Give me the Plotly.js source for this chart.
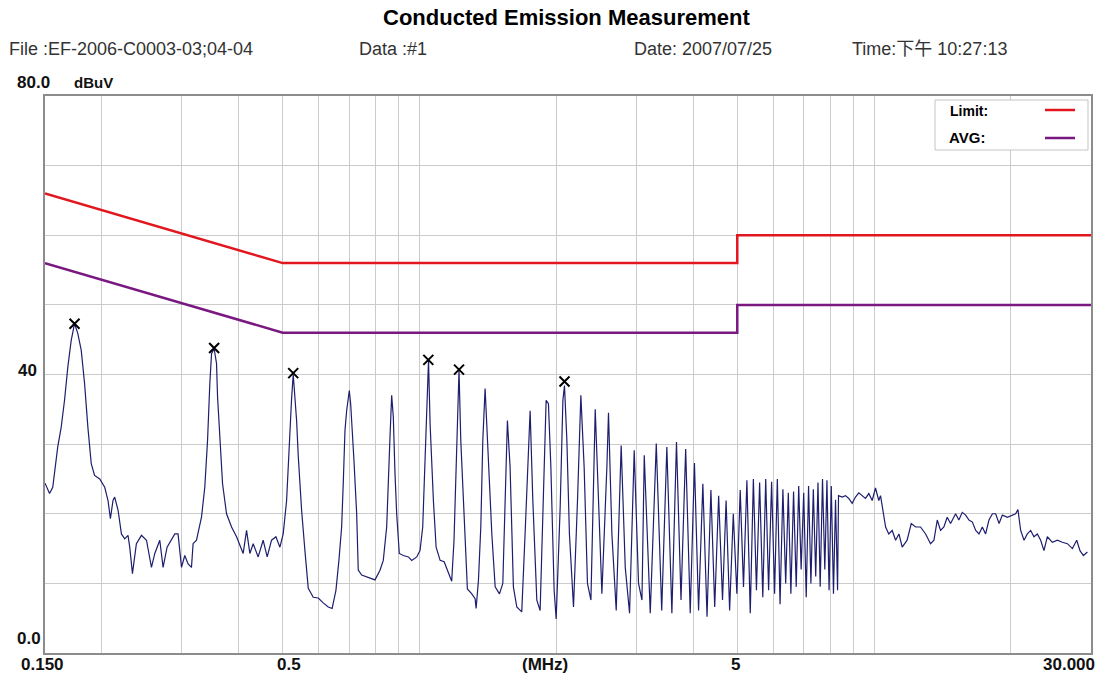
<!DOCTYPE html>
<html>
<head>
<meta charset="utf-8">
<script src="https://cdn.plot.ly/plotly-3.0.1.min.js"></script>
<style>html,body{margin:0;padding:0;background:#fff;}#chart{width:1104px;height:677px;}</style>
</head>
<body>
<div id="chart"></div>
<script>
// Scan trace: frequency (MHz) and level (dBuV)
var scanFreq = [
0.150,0.1535,0.1560,0.1588,0.1600,0.1628,0.1656,0.1684,0.1713,0.1742,0.1771,0.1802,0.1833,0.1864,0.1896,0.1928,0.1979,0.2030,0.2064,0.2089,
0.2117,0.2135,0.2172,0.2209,0.2246,0.2284,0.2304,0.2336,0.2383,0.2445,0.2508,0.2572,0.2616,0.2683,0.2728,0.2784,0.2846,0.2895,0.2943,0.2995,
0.3045,0.3097,0.3150,0.3176,0.3231,0.3314,0.3370,0.3417,0.3457,0.3487,0.3533,0.3576,0.3595,0.3637,0.3687,0.3762,0.3859,0.3958,0.4093,0.4164,
0.4234,0.4306,0.4416,0.4529,0.4622,0.4726,0.4831,0.4930,0.5013,0.5100,0.5142,0.5186,0.5231,0.5274,0.5319,0.5365,0.5409,0.5503,0.5596,0.5691,
0.5837,0.5987,0.6140,0.6298,0.6423,0.6548,0.6648,0.6740,0.6796,0.6855,0.6913,0.7006,0.7055,0.7127,0.7173,0.7273,0.7332,0.7459,0.7651,0.7847,
0.7980,0.8185,0.8323,0.8467,0.8537,0.8610,0.8684,0.8756,0.8831,0.8907,0.9026,0.9213,0.9450,0.9612,0.9859,1.0025,1.0163,1.0246,1.0335,1.0403,
1.0466,1.0550,1.0622,1.0728,1.0876,1.1100,1.1328,1.1577,1.1770,1.1908,1.2031,1.2134,1.2214,1.2324,1.2449,1.2596,1.2743,1.3031,1.3252,1.3319,
1.3476,1.3639,1.3778,1.3939,1.4174,1.4423,1.4668,1.4991,1.5248,1.5427,1.5607,1.5820,1.6087,1.6366,1.6783,1.7068,1.7356,1.7510,1.7752,1.8114,
1.8420,1.8798,1.8989,1.9212,1.9450,1.9775,1.9979,2.039,2.0671,2.0839,2.1093,2.1367,2.1813,2.2259,2.2641,2.3022,2.3411,2.3825,2.435,2.4761,
2.5185,2.5831,2.6044,2.6496,2.7082,2.777,2.835,2.8975,2.9666,3.032,3.0853,3.1214,3.1645,3.218,3.3174,3.41,3.50,3.59,3.675,3.76,
3.85,3.94,4.025,4.11,4.20,4.29,4.375,4.46,4.55,4.64,4.725,4.81,4.90,4.99,5.075,5.16,5.25,5.34,5.425,5.51,
5.60,5.69,5.775,5.86,5.95,6.04,6.125,6.21,6.30,6.39,6.475,6.56,6.65,6.74,6.825,6.91,7.00,7.09,7.175,7.26,
7.35,7.44,7.525,7.61,7.70,7.79,7.875,7.96,8.05,8.14,8.225,8.31,8.35,8.505,8.65,8.796,8.948,9.10,9.253,9.413,
9.573,9.734,9.903,10.07,10.24,10.33,10.50,10.60,10.77,10.96,11.15,11.34,11.53,11.82,12.07,12.34,12.65,12.98,13.31,13.54,
13.77,14.0,14.24,14.48,14.73,15.11,15.36,15.63,15.90,16.17,16.45,16.73,17.01,17.30,17.59,17.89,18.21,18.51,18.83,19.15,
19.65,20.14,20.48,20.72,21.01,21.37,21.73,22.1,22.47,22.86,23.25,23.64,24.05,24.67,25.30,25.95,26.62,27.30,27.91,28.37,
28.87,29.46
];
var scanLevel = [
24.4,22.9,23.8,28.1,29.6,32.4,36.3,41.1,44.9,47.3,45.9,43.5,38.7,32.4,27.2,25.5,25.0,23.8,21.9,19.3,
21.9,22.4,20.5,17.1,16.4,16.9,15.2,11.4,15.7,16.9,16.2,12.3,14.3,16.2,12.3,15.2,16.2,17.1,17.1,12.3,
14.0,12.8,12.3,15.7,16.2,19.5,23.8,30.5,38.7,43.0,43.7,41.6,36.8,31.5,24.3,20.0,18.1,16.7,14.3,17.6,
14.3,15.7,13.8,16.2,13.8,16.2,16.7,15.2,17.1,21.9,26.9,31.1,36.6,40.0,37.0,33.4,28.4,20.5,14.7,9.3,
8.0,7.9,7.2,6.6,6.4,9.0,13.3,18.1,24.5,32.0,34.8,37.7,35.8,31.5,27.7,20.0,11.9,11.2,10.9,10.7,
10.5,11.9,13.3,18.1,25.8,31.0,37.0,33.9,25.8,20.0,14.3,14.0,13.8,13.3,13.8,14.7,18.1,24.8,32.9,37.7,
42.0,32.9,28.1,21.9,15.2,13.3,13.1,11.4,10.3,16.2,25.8,35.3,40.6,30.5,23.4,16.2,9.2,8.5,7.8,6.4,
10.4,18.1,30.5,38.0,26.7,17.1,9.5,8.5,10.0,21.9,33.4,26.7,9.5,6.6,5.9,17.1,28.6,34.8,21.9,7.6,
6.1,26.7,36.3,35.8,26.7,9.0,4.9,21.0,36.3,38.4,30.5,17.1,6.6,21.9,37.0,26.7,10.0,7.6,35.0,21.9,
8.5,26.7,34.5,17.1,6.1,29.8,12.3,5.7,29.1,10.0,7.6,28.4,17.1,5.7,30.1,6.1,29.6,5.7,30.3,7.6,
29.3,5.7,27.3,6.1,24.3,5.2,23.4,6.6,22.6,7.6,21.9,6.1,20.0,8.5,23.4,9.5,24.8,5.7,25.0,9.0,
24.5,8.0,25.0,9.0,24.6,8.5,25.0,7.0,23.5,10.0,23.0,8.5,23.2,9.5,24.0,12.0,23.0,8.0,24.0,10.0,
23.5,11.0,24.5,9.5,25.0,12.0,24.8,9.0,24.0,8.5,22.0,9.0,22.6,22.4,22.6,22.2,21.5,22.4,23.0,22.6,
22.2,22.9,21.9,23.7,21.9,22.6,20.0,18.1,17.1,17.6,16.2,17.1,15.2,16.2,18.6,18.1,18.1,17.1,15.7,16.2,
19.1,17.6,18.1,19.5,18.6,20.0,19.1,20.2,19.8,19.1,18.8,17.6,17.1,18.1,17.1,19.1,20.0,20.0,18.6,19.8,
19.5,19.8,20.0,20.6,17.6,16.2,17.1,17.6,16.7,17.1,16.2,14.7,16.7,15.9,16.2,15.9,15.7,15.0,16.2,14.7,
14.0,14.5
];
// Marked peaks
var peakFreq = [0.1742, 0.3533, 0.5274, 1.0456, 1.2214, 2.0839];
var peakLevel = [47.3, 43.8, 40.2, 42.1, 40.7, 39.0];
// Limit lines
var limitFreq = [0.15, 0.5, 5, 5, 30];
var limitQP = [66, 56, 56, 60, 60];
var limitAVG = [56, 46, 46, 50, 50];
// Axis grid and labels
var xGrid = [0.2,0.3,0.4,0.5,0.6,0.7,0.8,0.9,1,2,3,4,5,6,7,8,9,10,20];
var yGrid = [0,10,20,30,40,50,60,70,80];
var xLabels = ['0.150','0.5','(MHz)','5','30.000'];
var yLabels = ['80.0','40','0.0'];

var L = 45, R = 13, T = 96, B = 24, W = 1104, H = 677;
var pw = W - L - R, ph = H - T - B;
function px(p){ return (p - L) / pw; }
function py(p){ return 1 - (p - T) / ph; }

var lblFont = {family:'Liberation Sans, Arial, sans-serif', size:17, color:'#111', weight:'bold'};
var hdrFont = {family:'Liberation Sans, Arial, sans-serif', size:18, color:'#333'};

var traces = [
  {x: limitFreq, y: limitQP, mode:'lines', line:{color:'rgb(226,22,30)', width:2.5}, showlegend:false, hoverinfo:'skip'},
  {x: limitFreq, y: limitAVG, mode:'lines', line:{color:'rgb(122,24,130)', width:2.5}, showlegend:false, hoverinfo:'skip'},
  {x: scanFreq, y: scanLevel, mode:'lines', line:{color:'#1e1e6e', width:1.2}, showlegend:false},
  {x: peakFreq, y: peakLevel, mode:'markers', marker:{symbol:'x-thin-open', size:10, color:'#000', line:{color:'#000', width:2}}, showlegend:false}
];

var ann = [
  {text:'Conducted Emission Measurement', x:px(566), y:py(18), xref:'paper', yref:'paper', xanchor:'center', yanchor:'middle', showarrow:false, font:{family:'Liberation Sans, Arial, sans-serif', size:22, color:'#000', weight:'bold'}},
  {text:'File :EF-2006-C0003-03;04-04', x:px(7), y:py(49), xref:'paper', yref:'paper', xanchor:'left', yanchor:'middle', showarrow:false, font:hdrFont},
  {text:'Data :#1', x:px(357), y:py(49), xref:'paper', yref:'paper', xanchor:'left', yanchor:'middle', showarrow:false, font:hdrFont},
  {text:'Date: 2007/07/25', x:px(632), y:py(49), xref:'paper', yref:'paper', xanchor:'left', yanchor:'middle', showarrow:false, font:hdrFont},
  {text:'Time:下午 10:27:13', x:px(850), y:py(49), xref:'paper', yref:'paper', xanchor:'left', yanchor:'middle', showarrow:false, font:{family:'Liberation Sans, Noto Sans CJK TC, Arial, sans-serif', size:18, color:'#333'}},
  {text:yLabels[0], x:px(15), y:py(83), xref:'paper', yref:'paper', xanchor:'left', yanchor:'middle', showarrow:false, font:lblFont},
  {text:'dBuV', x:px(72), y:py(83), xref:'paper', yref:'paper', xanchor:'left', yanchor:'middle', showarrow:false, font:{family:'Liberation Sans, Arial, sans-serif', size:15, color:'#111', weight:'bold'}},
  {text:yLabels[1], x:px(39), y:py(370), xref:'paper', yref:'paper', xanchor:'right', yanchor:'middle', showarrow:false, font:lblFont},
  {text:yLabels[2], x:px(15), y:py(638), xref:'paper', yref:'paper', xanchor:'left', yanchor:'middle', showarrow:false, font:lblFont},
  {text:xLabels[0], x:px(42), y:py(664), xref:'paper', yref:'paper', xanchor:'center', yanchor:'middle', showarrow:false, font:lblFont},
  {text:xLabels[1], x:px(289), y:py(664), xref:'paper', yref:'paper', xanchor:'center', yanchor:'middle', showarrow:false, font:lblFont},
  {text:xLabels[2], x:px(545), y:py(664), xref:'paper', yref:'paper', xanchor:'center', yanchor:'middle', showarrow:false, font:lblFont},
  {text:xLabels[3], x:px(735), y:py(664), xref:'paper', yref:'paper', xanchor:'center', yanchor:'middle', showarrow:false, font:lblFont},
  {text:xLabels[4], x:px(1097), y:py(664), xref:'paper', yref:'paper', xanchor:'right', yanchor:'middle', showarrow:false, font:lblFont},
  {text:'Limit:', x:px(948), y:py(111), xref:'paper', yref:'paper', xanchor:'left', yanchor:'middle', showarrow:false, font:{family:'Liberation Sans, Arial, sans-serif', size:14, color:'#000', weight:'bold'}},
  {text:'AVG:', x:px(947), y:py(137), xref:'paper', yref:'paper', xanchor:'left', yanchor:'middle', showarrow:false, font:{family:'Liberation Sans, Arial, sans-serif', size:15, color:'#000', weight:'bold'}}
];

var shapes = [
  {type:'rect', xref:'paper', yref:'paper', x0:px(935), x1:px(1088), y0:py(150), y1:py(100), fillcolor:'#fff', line:{color:'#c4c4c4', width:1}, layer:'above'},
  {type:'line', xref:'paper', yref:'paper', x0:px(1045), x1:px(1075), y0:py(110), y1:py(110), line:{color:'rgb(226,22,30)', width:2.5}, layer:'above'},
  {type:'line', xref:'paper', yref:'paper', x0:px(1045), x1:px(1075), y0:py(138), y1:py(138), line:{color:'rgb(122,24,130)', width:2.5}, layer:'above'}
];

var layout = {
  width: W, height: H,
  margin: {l:L, r:R, t:T, b:B, pad:0},
  paper_bgcolor:'#fff', plot_bgcolor:'#fff',
  showlegend:false,
  xaxis: {type:'log', range:[Math.log10(0.15), Math.log10(30)], tickmode:'array', tickvals:xGrid, showticklabels:false, ticks:'',
          showgrid:true, gridcolor:'#cbcbcb', gridwidth:1, showline:true, mirror:true, linecolor:'#8c8c8c', linewidth:2, zeroline:false, fixedrange:true},
  yaxis: {range:[0,80], tickmode:'array', tickvals:yGrid, showticklabels:false, ticks:'',
          showgrid:true, gridcolor:'#cbcbcb', gridwidth:1, showline:true, mirror:true, linecolor:'#8c8c8c', linewidth:2, zeroline:false, fixedrange:true},
  annotations: ann,
  shapes: shapes
};

Plotly.newPlot('chart', traces, layout, {displayModeBar:false, staticPlot:true});
</script>
</body>
</html>
